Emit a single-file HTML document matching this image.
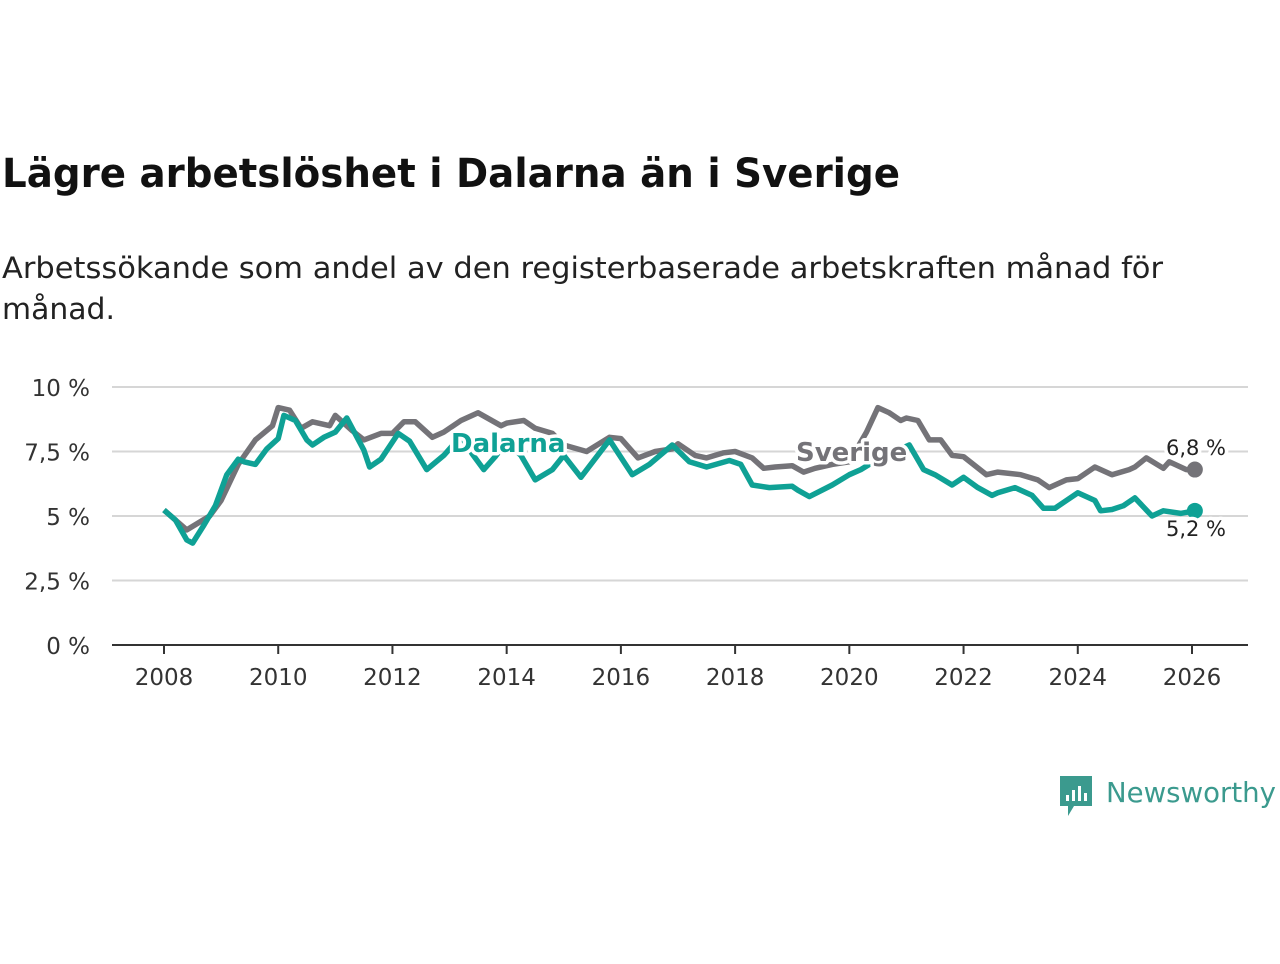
<!DOCTYPE html>
<html><head><meta charset="utf-8"><style>
body{margin:0;background:#fff;width:1280px;height:960px;overflow:hidden;font-family:"DejaVu Sans","Liberation Sans",sans-serif}
</style></head><body>
<svg width="1280" height="960">
<text x="2" y="187" font-size="40" font-weight="bold" fill="#111" textLength="898" lengthAdjust="spacingAndGlyphs">Lägre arbetslöshet i Dalarna än i Sverige</text>
<text x="2" y="278" font-size="29" fill="#222" textLength="1161" lengthAdjust="spacingAndGlyphs">Arbetssökande som andel av den registerbaserade arbetskraften månad för</text>
<text x="2" y="319" font-size="29" fill="#222" textLength="113" lengthAdjust="spacingAndGlyphs">månad.</text>
<g id="grid"></g><g id="axes"></g><g id="lines"></g><g id="labels"></g>
<g>
<path d="M1060 776h32v30h-18l-6 10v-10h-8z" fill="#3b9a8e"/>
<rect x="1066" y="795" width="3" height="6" fill="#fff"/><rect x="1072" y="790" width="3" height="11" fill="#fff"/><rect x="1078" y="786" width="3" height="15" fill="#fff"/><rect x="1084" y="793" width="3" height="8" fill="#fff"/>
<text x="1106" y="802" font-size="28" fill="#3b9a8e" textLength="170" lengthAdjust="spacingAndGlyphs">Newsworthy</text>
</g>
</svg>
<script>
const yTicks=[0,2.5,5,7.5,10];
const yTickLabels=["0 %","2,5 %","5 %","7,5 %","10 %"];
const xTicks=[2008,2010,2012,2014,2016,2018,2020,2022,2024,2026];
const sverigeDates=[2008.0,2008.4,2008.8,2009.0,2009.3,2009.6,2009.9,2010.0,2010.2,2010.4,2010.6,2010.9,2011.0,2011.3,2011.5,2011.8,2012.0,2012.2,2012.4,2012.7,2012.9,2013.2,2013.5,2013.9,2014.0,2014.3,2014.5,2014.8,2015.0,2015.4,2015.8,2016.0,2016.3,2016.6,2016.9,2017.0,2017.3,2017.5,2017.8,2018.0,2018.3,2018.5,2018.7,2019.0,2019.2,2019.4,2019.7,2020.0,2020.3,2020.5,2020.7,2020.9,2021.0,2021.2,2021.4,2021.6,2021.8,2022.0,2022.2,2022.4,2022.6,2023.0,2023.3,2023.5,2023.8,2024.0,2024.3,2024.6,2024.9,2025.0,2025.2,2025.5,2025.6,2025.9,2026.05];
const sverigeValues=[5.23,4.46,5.0,5.6,7.0,7.95,8.5,9.2,9.1,8.4,8.65,8.5,8.9,8.3,7.95,8.2,8.2,8.65,8.65,8.05,8.25,8.7,9.0,8.5,8.6,8.7,8.4,8.2,7.75,7.5,8.05,8.0,7.25,7.5,7.6,7.8,7.35,7.25,7.45,7.5,7.25,6.85,6.9,6.95,6.7,6.85,7.0,7.1,8.25,9.2,9.0,8.7,8.8,8.7,7.95,7.95,7.35,7.3,6.95,6.6,6.7,6.6,6.4,6.1,6.4,6.45,6.9,6.6,6.8,6.9,7.25,6.85,7.1,6.8,6.8];
const dalarnaDates=[2008.0,2008.2,2008.4,2008.5,2008.7,2008.9,2009.1,2009.3,2009.4,2009.6,2009.8,2010.0,2010.1,2010.3,2010.5,2010.6,2010.8,2011.0,2011.2,2011.5,2011.6,2011.8,2012.1,2012.3,2012.6,2012.9,2013.2,2013.4,2013.6,2013.8,2014.0,2014.25,2014.5,2014.8,2015.0,2015.3,2015.8,2016.2,2016.5,2016.9,2017.2,2017.5,2017.9,2018.1,2018.3,2018.6,2019.0,2019.1,2019.3,2019.7,2020.0,2020.2,2020.5,2020.8,2021.05,2021.3,2021.5,2021.8,2022.0,2022.25,2022.5,2022.6,2022.9,2023.2,2023.4,2023.6,2023.8,2024.0,2024.3,2024.4,2024.6,2024.8,2025.0,2025.3,2025.5,2025.8,2026.05];
const dalarnaValues=[5.23,4.85,4.07,3.95,4.65,5.4,6.6,7.2,7.1,7.0,7.6,8.0,8.9,8.7,7.95,7.75,8.05,8.25,8.8,7.55,6.9,7.2,8.2,7.9,6.8,7.35,8.1,7.4,6.8,7.3,7.9,7.35,6.4,6.8,7.35,6.5,7.95,6.6,7.0,7.75,7.1,6.9,7.15,7.0,6.2,6.1,6.15,6.0,5.75,6.2,6.6,6.8,7.2,7.5,7.75,6.8,6.6,6.2,6.5,6.1,5.8,5.9,6.1,5.8,5.3,5.3,5.6,5.9,5.6,5.2,5.25,5.4,5.7,5.0,5.2,5.1,5.2];
const NS="http://www.w3.org/2000/svg";
const X=d=>164+(d-2008)*(1192-164)/18;
const Y=v=>645-v*25.8;
function mk(tag,attrs,parent,text){const e=document.createElementNS(NS,tag);for(const k in attrs)e.setAttribute(k,attrs[k]);if(text!==undefined)e.textContent=text;document.getElementById(parent).appendChild(e);return e;}
yTicks.forEach((t,i)=>{
 if(t>0){const g=mk('line',{x1:112,x2:1248,y1:Y(t),y2:Y(t),stroke:'#d6d6d6','stroke-width':2},'grid');
 
 }
 const l=mk('text',{x:90,y:Y(t)+9,'font-size':23,'text-anchor':'end',fill:'#333'},'axes',yTickLabels[i]);
 
 
});
const ax=mk('line',{x1:112,x2:1248,y1:645,y2:645,stroke:'#333','stroke-width':2},'axes');


xTicks.forEach(t=>{
 const tk=mk('line',{x1:X(t),x2:X(t),y1:645,y2:654,stroke:'#333','stroke-width':2},'axes');
 
 
 const l=mk('text',{x:X(t),y:685,'font-size':23,'text-anchor':'middle',fill:'#333'},'axes',String(t));
 
 
});
function line(dates,vals,color,name){
 const d=dates.map((t,i)=>(i?'L':'M')+X(t).toFixed(1)+' '+Y(vals[i]).toFixed(1)).join('');
 const p=mk('path',{d:d,fill:'none',stroke:color,'stroke-width':5.5,'stroke-linejoin':'round'},'lines');
 
 
 const n=dates.length-1;
 const c=mk('circle',{cx:X(dates[n]),cy:Y(vals[n]),r:8,fill:color},'lines');
 
 
}
line(sverigeDates,sverigeValues,'#747378','sverige-line');
line(dalarnaDates,dalarnaValues,'#0fa195','dalarna-line');
function lbl(x,y,txt,color,size,weight,name,anchor){
 const t=mk('text',{x:x,y:y,'font-size':size,'font-weight':weight,fill:color,stroke:'#fff','stroke-width':7,'paint-order':'stroke','stroke-linejoin':'round','text-anchor':anchor||'start'},'labels',txt);
 
 
}
lbl(451,452,'Dalarna','#0fa195',26,'bold','dalarna-label');
lbl(796,461,'Sverige','#747378',26,'bold','sverige-label');
lbl(1196,455,'6,8 %','#222',21,'normal','sverige-end-value','middle');
lbl(1196,536,'5,2 %','#222',21,'normal','dalarna-end-value','middle');
</script>
</body></html>
